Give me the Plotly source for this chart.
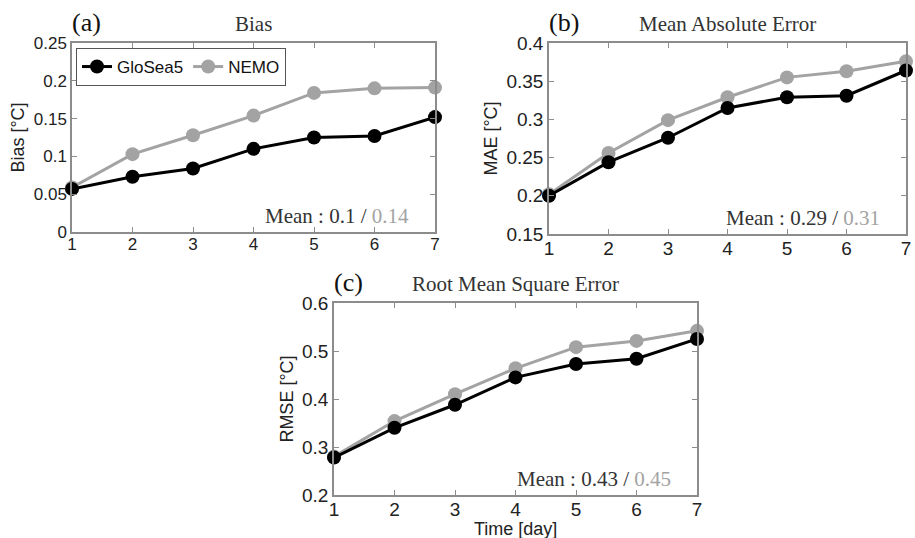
import plotly.graph_objects as go

days = [1, 2, 3, 4, 5, 6, 7]
bias_glosea5 = [0.057, 0.073, 0.084, 0.110, 0.125, 0.127, 0.152]
bias_nemo = [0.059, 0.103, 0.128, 0.154, 0.184, 0.190, 0.191]
mae_glosea5 = [0.200, 0.244, 0.276, 0.315, 0.329, 0.331, 0.364]
mae_nemo = [0.202, 0.256, 0.299, 0.329, 0.355, 0.363, 0.376]
rmse_glosea5 = [0.278, 0.340, 0.388, 0.445, 0.473, 0.484, 0.525]
rmse_nemo = [0.280, 0.354, 0.410, 0.464, 0.508, 0.521, 0.542]

panels = [
    dict(label="(a)", title="Bias", ytitle="Bias [°C]", g=bias_glosea5, n=bias_nemo,
         yr=[0, 0.25], dt=0.05, mean=("0.1", "0.14"), tf=17,
         xd=[72/915, 435/915], yd=[1-232/538, 1-43/538]),
    dict(label="(b)", title="Mean Absolute Error", ytitle="MAE [°C]", g=mae_glosea5, n=mae_nemo,
         yr=[0.15, 0.4], dt=0.05, mean=("0.29", "0.31"), tf=19,
         xd=[549/915, 906/915], yd=[1-234/538, 1-43/538]),
    dict(label="(c)", title="Root Mean Square Error", ytitle="RMSE [°C]", g=rmse_glosea5, n=rmse_nemo,
         yr=[0.2, 0.6], dt=0.1, mean=("0.43", "0.45"), tf=19,
         xd=[334/915, 697/915], yd=[1-495/538, 1-303/538]),
]

BLACK = "#000000"
GRAY = "#a3a3a3"
AX = "#8c8c8c"
SANS = "Liberation Sans, Arial, sans-serif"
SERIF = "Liberation Serif, Times New Roman, serif"

fig = go.Figure()
layout = dict(
    width=915, height=538, margin=dict(l=0, r=0, t=0, b=0, autoexpand=False),
    paper_bgcolor="white", plot_bgcolor="white",
    showlegend=True,
    legend=dict(orientation="h", x=76/915, y=1-48/538, xanchor="left", yanchor="top",
                bordercolor="#555555", borderwidth=1, bgcolor="white",
                font=dict(family=SANS, size=17, color="#111111"),
                tracegroupgap=0, itemwidth=30),
)
annotations = []
for i, p in enumerate(panels):
    k = "" if i == 0 else str(i + 1)
    xa, ya = "x" + k, "y" + k
    fig.add_trace(go.Scatter(x=days, y=p["n"], mode="lines+markers", name="NEMO",
                             line=dict(color=GRAY, width=3), marker=dict(size=14, color=GRAY),
                             xaxis=xa, yaxis=ya, showlegend=(i == 0), legendrank=2, cliponaxis=False))
    fig.add_trace(go.Scatter(x=days, y=p["g"], mode="lines+markers", name="GloSea5",
                             line=dict(color=BLACK, width=3), marker=dict(size=14, color=BLACK),
                             xaxis=xa, yaxis=ya, showlegend=(i == 0), legendrank=1, cliponaxis=False))
    axcommon = dict(showgrid=False, zeroline=False, showline=True, linecolor=AX, linewidth=1.5,
                    mirror="ticks", ticks="inside", ticklen=5, tickcolor=AX, automargin=False,
                    tickfont=dict(family=SANS, size=p["tf"], color="#222222"))
    layout["xaxis" + k] = dict(axcommon, domain=p["xd"], anchor=ya, range=[1, 7], dtick=1,
                               tickvals=days, ticklabelstandoff=-4)
    layout["yaxis" + k] = dict(axcommon, domain=p["yd"], anchor=xa, range=p["yr"], dtick=p["dt"],
                               tick0=p["yr"][0], ticklabelstandoff=0,
                               title=dict(text=p["ytitle"], font=dict(family=SANS, size=18, color="#222222"),
                                          standoff=4))
    x0, x1 = p["xd"]
    ytop = p["yd"][1]
    annotations.append(dict(text=p["label"], x=x0 - 2/915, y=ytop + 4/538, xref="paper", yref="paper",
                            xanchor="left", yanchor="bottom", showarrow=False,
                            font=dict(family=SERIF, size=26, color="#111111")))
    annotations.append(dict(text=p["title"], x=(x0 + x1) / 2, y=ytop + 5/538, xref="paper", yref="paper",
                            xanchor="center", yanchor="bottom", showarrow=False,
                            font=dict(family=SERIF, size=21, color="#333333")))
    annotations.append(dict(text="Mean : %s / <span style='color:%s'>%s</span>" % (p["mean"][0], GRAY, p["mean"][1]),
                            x=x1 - 24/915, y=p["yd"][0] + 2/538, xref="paper", yref="paper",
                            xanchor="right", yanchor="bottom", showarrow=False,
                            font=dict(family=SERIF, size=21, color="#333333")))
# x-axis title of panel (c)
xc0, xc1 = panels[2]["xd"]
annotations.append(dict(text="Time [day]", x=(xc0 + xc1) / 2, y=-3/538, xref="paper", yref="paper",
                        xanchor="center", yanchor="bottom", showarrow=False,
                        font=dict(family=SANS, size=18, color="#222222")))
layout["annotations"] = annotations
fig.update_layout(**layout)
fig.write_html("out.html", config={"displayModeBar": False},
               post_script="document.body.style.margin='0';document.body.style.overflow='hidden';")
